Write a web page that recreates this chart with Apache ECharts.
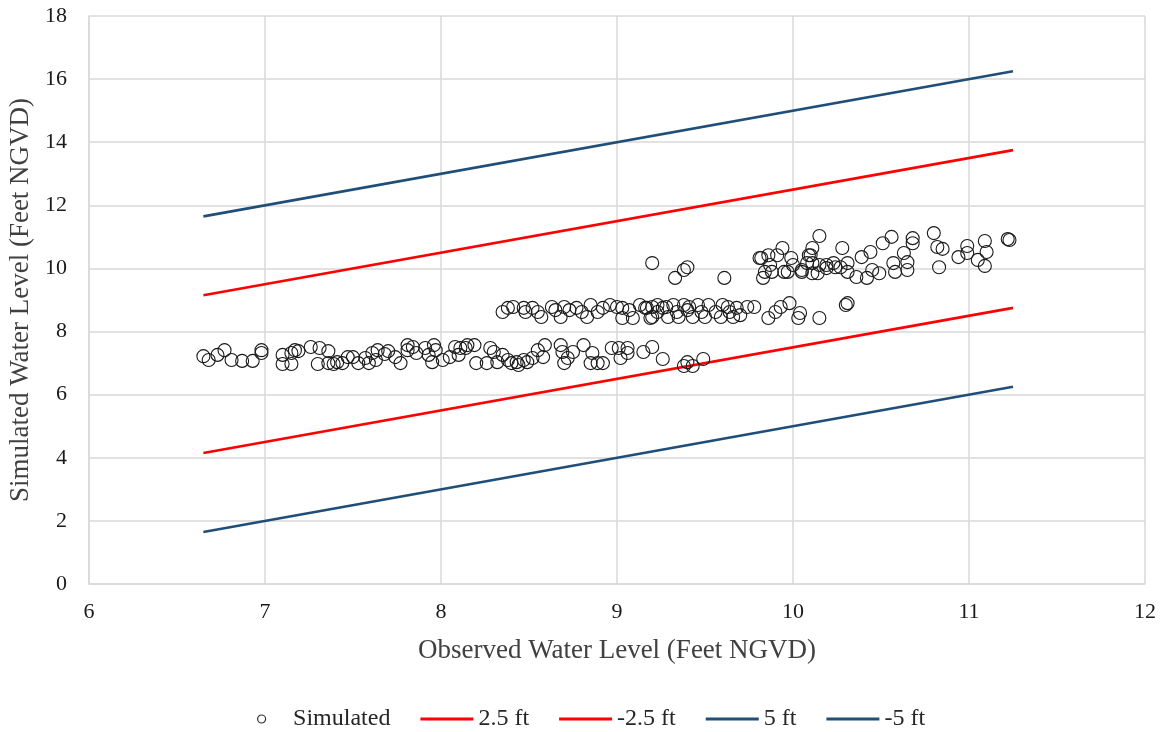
<!DOCTYPE html>
<html>
<head>
<meta charset="utf-8">
<script src="https://cdn.jsdelivr.net/npm/echarts@6/dist/echarts.min.js"></script>
<style>html,body{margin:0;padding:0;background:#fff}#c{width:1160px;height:732px}</style>
</head>
<body>
<div id="c"></div>
<script>
// Observed (x) and simulated (y) water levels
const obsX = [
6.65,6.68,6.73,6.77,6.81,6.87,6.93,6.98,6.98,7.10,7.10,7.15,7.15,7.17,7.19,7.26,7.31,7.30,7.36,7.36,
7.39,7.41,7.44,7.47,7.50,7.53,7.57,7.59,7.61,7.63,7.64,7.68,7.70,7.74,7.77,7.81,7.81,
7.84,7.86,7.91,7.93,7.95,7.96,7.97,8.01,8.05,8.08,8.11,8.10,8.14,8.15,8.19,8.20,8.26,8.28,8.30,8.32,
8.35,8.38,8.40,8.43,8.44,8.47,8.49,8.52,8.55,8.58,8.59,8.68,8.69,8.70,8.72,8.75,8.81,8.86,8.85,8.89,
8.92,8.97,9.01,9.02,9.06,9.06,9.15,9.20,9.26,9.38,9.40,9.43,9.49,
8.35,8.38,8.41,8.47,8.48,8.52,8.55,8.57,8.63,8.65,8.68,8.70,8.73,8.77,8.80,8.83,8.85,8.89,8.92,8.96,
9.00,9.03,9.03,9.07,9.09,9.13,9.16,9.19,9.20,9.23,9.17,9.20,9.23,9.26,9.28,9.29,9.32,9.34,9.35,9.38,
9.40,9.41,9.43,9.46,9.48,9.50,9.52,9.56,9.59,9.60,9.63,9.64,9.66,9.68,9.70,9.74,9.78,9.86,9.90,9.93,
9.98,10.04,10.03,10.15,10.30,10.31,
9.20,9.33,9.38,9.40,9.61,
9.81,9.86,9.87,9.84,9.83,9.88,9.91,9.95,9.99,10.00,10.05,10.08,10.10,10.11,10.15,10.19,10.23,
9.82,9.94,9.97,10.05,10.09,10.11,10.14,10.15,10.11,10.19,10.24,10.28,10.27,10.31,10.31,10.36,10.39,
10.42,10.44,10.45,10.49,10.51,10.56,10.57,10.58,10.63,10.65,10.65,10.68,10.68,10.80,10.82,10.85,10.83,
10.94,10.99,10.99,11.05,11.09,11.10,11.09,11.22,11.23
];
const simY = [
7.22,7.10,7.26,7.41,7.10,7.07,7.07,7.41,7.32,7.26,6.97,7.32,6.97,7.41,7.38,7.51,7.48,6.97,7.38,7.00,
6.97,7.03,7.00,7.19,7.19,7.00,7.16,7.00,7.32,7.10,7.41,7.29,7.38,7.19,7.00,7.41,7.57,
7.51,7.32,7.48,7.26,7.03,7.57,7.41,7.10,7.19,7.51,7.48,7.26,7.48,7.57,7.57,7.00,7.00,7.48,7.35,7.03,
7.26,7.10,7.00,7.03,6.94,7.10,7.03,7.16,7.41,7.19,7.57,7.57,7.35,7.00,7.16,7.35,7.57,7.32,7.00,7.00,
7.00,7.48,7.48,7.16,7.32,7.48,7.35,7.51,7.13,6.91,7.03,6.91,7.13,
8.62,8.75,8.78,8.75,8.62,8.75,8.62,8.46,8.78,8.68,8.46,8.78,8.68,8.75,8.62,8.46,8.84,8.62,8.75,8.84,
8.78,8.43,8.75,8.68,8.43,8.84,8.75,8.43,8.78,8.62,8.75,8.46,8.84,8.75,8.78,8.46,8.84,8.62,8.46,8.84,
8.68,8.78,8.46,8.84,8.62,8.46,8.84,8.62,8.46,8.84,8.78,8.62,8.46,8.75,8.52,8.78,8.78,8.43,8.62,8.78,
8.90,8.59,8.43,8.43,8.84,8.90,
10.17,9.70,9.95,10.04,9.70,
10.33,10.42,10.11,9.89,9.70,9.89,10.42,9.89,10.33,10.11,9.89,10.17,10.42,9.85,10.11,10.01,10.17,
10.33,10.65,9.89,9.95,10.42,10.65,9.85,11.03,10.17,10.11,10.04,10.65,10.04,10.17,9.89,9.73,10.36,
9.70,10.52,9.95,9.85,10.80,11.00,10.17,9.89,10.49,10.20,9.95,10.96,10.80,11.12,10.68,10.62,10.04,
10.36,10.71,10.49,10.27,10.87,10.52,10.08,10.93,10.90
];
// Reference lines (1:1 line offsets)
const lineX = [6.65, 11.25];
const plus25 = [9.15, 13.75];
const minus25 = [4.15, 8.75];
const plus5 = [11.65, 16.25];
const minus5 = [1.65, 6.25];
const seriesNames = ['Simulated', '2.5 ft', '-2.5 ft', '5 ft', '-5 ft'];

const pairs = (xs, ys) => xs.map((x, i) => [x, ys[i]]);
const red = '#FF0000', blue = '#1F4E79';
const font = '"Liberation Serif","Times New Roman",serif';
const lineIcon = 'path://M0,0h53v3h-53z';

const chart = echarts.init(document.getElementById('c'));
chart.setOption({
  animation: false,
  textStyle: { fontFamily: font },
  grid: { left: 89, right: 15, top: 16, bottom: 148, containLabel: false, outerBoundsMode: 'none' },
  xAxis: {
    type: 'value', min: 6, max: 12, interval: 1,
    name: 'Observed Water Level (Feet NGVD)', nameLocation: 'middle', nameGap: 53,
    nameTextStyle: { fontFamily: font, fontSize: 27, color: '#404040' },
    axisLine: { show: true, lineStyle: { color: '#D9D9D9', width: 1.5 } },
    axisTick: { show: false },
    axisLabel: { fontFamily: font, fontSize: 22, color: '#1a1a1a', margin: 17 },
    splitLine: { show: true, lineStyle: { color: '#D9D9D9', width: 1.5 } }
  },
  yAxis: {
    type: 'value', min: 0, max: 18, interval: 2,
    name: 'Simulated Water Level (Feet NGVD)', nameLocation: 'middle', nameGap: 53,
    nameTextStyle: { fontFamily: font, fontSize: 27, color: '#404040' },
    axisLine: { show: true, lineStyle: { color: '#D9D9D9', width: 1.5 } },
    axisTick: { show: false },
    axisLabel: { fontFamily: font, fontSize: 22, color: '#1a1a1a', margin: 22 },
    splitLine: { show: true, lineStyle: { color: '#D9D9D9', width: 1.5 } }
  },
  legend: {
    top: 707, left: 257, padding: 0, itemWidth: 53, itemHeight: 8, itemGap: 30,
    symbolKeepAspect: true,
    textStyle: { fontFamily: font, fontSize: 24, color: '#262626' },
    data: [
      { name: seriesNames[0], icon: 'circle', itemStyle: { color: 'rgba(0,0,0,0)', borderColor: '#333', borderWidth: 1.2 } },
      { name: seriesNames[1], icon: lineIcon, itemStyle: { color: red } },
      { name: seriesNames[2], icon: lineIcon, itemStyle: { color: red } },
      { name: seriesNames[3], icon: lineIcon, itemStyle: { color: blue } },
      { name: seriesNames[4], icon: lineIcon, itemStyle: { color: blue } }
    ]
  },
  series: [
    {
      name: seriesNames[0], type: 'scatter', symbol: 'circle', symbolSize: 13,
      itemStyle: { color: 'rgba(255,255,255,0)', borderColor: '#1a1a1a', borderWidth: 1.1, opacity: 1 },
      data: pairs(obsX, simY), z: 5
    },
    { name: seriesNames[1], type: 'line', symbol: 'none', data: pairs(lineX, plus25), lineStyle: { color: red, width: 2.6 }, itemStyle: { color: red } },
    { name: seriesNames[2], type: 'line', symbol: 'none', data: pairs(lineX, minus25), lineStyle: { color: red, width: 2.6 }, itemStyle: { color: red } },
    { name: seriesNames[3], type: 'line', symbol: 'none', data: pairs(lineX, plus5), lineStyle: { color: blue, width: 2.6 }, itemStyle: { color: blue } },
    { name: seriesNames[4], type: 'line', symbol: 'none', data: pairs(lineX, minus5), lineStyle: { color: blue, width: 2.6 }, itemStyle: { color: blue } }
  ]
});
</script>
</body>
</html>
